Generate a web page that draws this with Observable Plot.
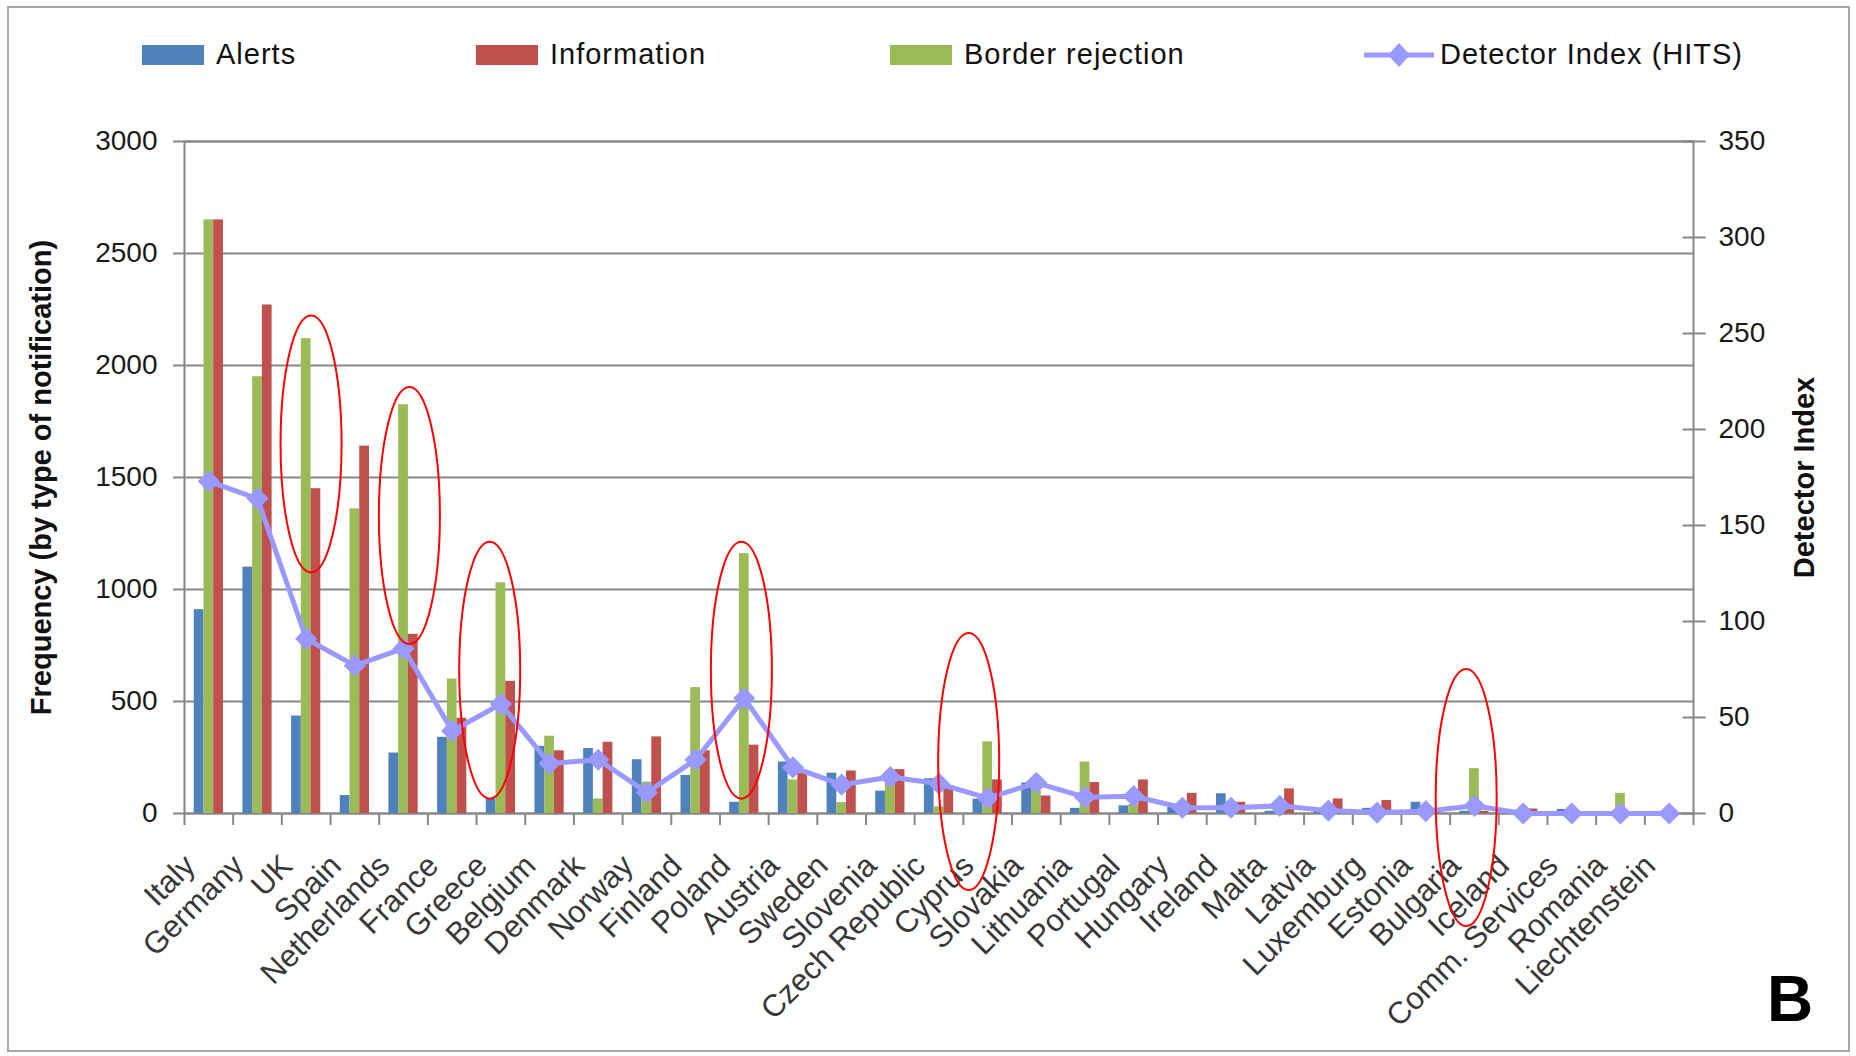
<!DOCTYPE html>
<html>
<head>
<meta charset="utf-8">
<script src="https://cdn.jsdelivr.net/npm/d3@7"></script>
<script src="https://cdn.jsdelivr.net/npm/@observablehq/plot@0.6"></script>
<style>
  html, body { margin: 0; padding: 0; background: #fff; }
  #wrap { position: relative; width: 1856px; height: 1056px; overflow: hidden; background: #fff;
          font-family: "Liberation Sans", Arial, sans-serif; color: #111; }
  #border { position: absolute; left: 7px; top: 6px; width: 1843px; height: 1046px;
            border: 2px solid #a8a8a8; box-sizing: border-box; pointer-events: none; z-index: 5; }
  #chart { position: absolute; left: 0; top: 90px; }
  .leg { position: absolute; top: 40px; height: 29px; display: flex; align-items: center;
         font-size: 29px; line-height: 29px; letter-spacing: 1px; white-space: nowrap; color: #111; }
  .sw { height: 20px; }
  #panel { position: absolute; left: 1767px; top: 967px; font-size: 64px; line-height: 64px;
           font-weight: bold; color: #000; }
</style>
</head>
<body>
<div id="wrap">
  <div id="legend"></div>
  <div id="chart"></div>
  <div id="panel">B</div>
  <div id="border"></div>
</div>
<script>
// ---------------- data ----------------
const countries = ["Italy", "Germany", "UK", "Spain", "Netherlands", "France", "Greece", "Belgium",
  "Denmark", "Norway", "Finland", "Poland", "Austria", "Sweden", "Slovenia", "Czech Republic",
  "Cyprus", "Slovakia", "Lithuania", "Portugal", "Hungary", "Ireland", "Malta", "Latvia",
  "Luxemburg", "Estonia", "Bulgaria", "Iceland", "Comm. Services", "Romania", "Liechtenstein"];
const alerts = [910, 1100, 435, 80, 270, 340, 65, 300,
  290, 240, 170, 50, 230, 180, 100, 155,
  64, 136, 23, 34, 28, 88, 10, 10,
  23, 50, 10, 5, 18, 5, 0];
const information = [2650, 2270, 1450, 1640, 800, 425, 590, 280,
  318, 342, 280, 305, 180, 190, 196, 115,
  150, 78, 138, 150, 90, 50, 110, 65,
  58, 10, 10, 20, 5, 5, 0];
const borderRejection = [2650, 1950, 2120, 1360, 1825, 600, 1030, 345,
  65, 140, 562, 1160, 150, 49, 140, 30,
  320, 110, 230, 40, 20, 30, 5, 5,
  5, 10, 200, 0, 0, 90, 0];
const detectorIndex = [173, 164, 91, 77, 86, 43, 57, 26,
  28, 11, 28, 60, 24, 15, 19, 15.5,
  8, 16, 8.5, 9, 3, 3, 4, 1.5,
  0.5, 1.2, 4, 0, 0, 0, 0];
const leftTicks = [0, 500, 1000, 1500, 2000, 2500, 3000];
const rightTicks = [0, 50, 100, 150, 200, 250, 300, 350];
const seriesNames = ["Alerts", "Information", "Border rejection", "Detector Index (HITS)"];
const seriesColors = ["#4F81BD", "#C0504D", "#9BBB59", "#9999FF"];
const yLabelLeft = "Frequency (by type of notification)";
const yLabelRight = "Detector Index";
// annotated groups (red ellipses): country, frequency value at the ellipse centre,
// and the ellipse centre's offset from the group centre in category units
const highlighted = ["UK", "Netherlands", "Greece", "Poland", "Cyprus", "Bulgaria"];
const highlightCentre = [1650, 1330, 640, 640, 232, 71];
const highlightShift = [0.1, 0.12, -0.23, -0.06, -0.39, -0.17];

// ---------------- layout ----------------
const W = 1856, H = 966;
const mL = 184, mR = 163, mT = 51, mB = 243;
const leftMax = 3000, rightMax = 350, k = leftMax / rightMax;
const bw = (W - mL - mR) / countries.length;
const grid = "#878787";

const rows = countries.map((c, i) => ({
  country: c, alerts: alerts[i], info: information[i], border: borderRejection[i], hits: detectorIndex[i]
}));

// bar slot j of 3 inside the band (20% wide each, group 60% centred)
const slot = j => ({insetLeft: bw * (0.2 + 0.2 * j), insetRight: bw * (1 - (0.4 + 0.2 * j))});

// ellipse symbol for the annotation rings
const ellipseSymbol = {
  draw(ctx) {
    const rx = 30.5, ry = 128.5, q = 0.5523;
    ctx.moveTo(rx, 0);
    ctx.bezierCurveTo(rx, q * ry, q * rx, ry, 0, ry);
    ctx.bezierCurveTo(-q * rx, ry, -rx, q * ry, -rx, 0);
    ctx.bezierCurveTo(-rx, -q * ry, -q * rx, -ry, 0, -ry);
    ctx.bezierCurveTo(q * rx, -ry, rx, -q * ry, rx, 0);
    ctx.closePath();
  }
};

const fmt = d3.format("d");

const chart = Plot.plot({
  width: W, height: H,
  marginLeft: mL, marginRight: mR, marginTop: mT, marginBottom: mB,
  style: {fontFamily: "'Liberation Sans', Arial, sans-serif", fontSize: "28px", background: "transparent", color: "#111"},
  x: {type: "band", domain: countries, padding: 0, round: false},
  y: {domain: [0, leftMax]},
  marks: [
    Plot.gridY({ticks: leftTicks, stroke: grid, strokeOpacity: 1, strokeWidth: 2}),
    Plot.frame({stroke: grid, strokeWidth: 2}),
    Plot.barY(rows, {x: "country", y: "alerts", fill: seriesColors[0], ...slot(0)}),
    Plot.barY(rows, {x: "country", y: "border", fill: seriesColors[2], ...slot(1)}),
    Plot.barY(rows, {x: "country", y: "info", fill: seriesColors[1], ...slot(2)}),
    // left axis
    Plot.axisY({anchor: "left", ticks: leftTicks, tickSize: 11, tickPadding: 16, stroke: grid, strokeWidth: 2,
      fill: "#1a1a1a", fontSize: 28, tickFormat: fmt, label: null}),
    // right axis (ticks crossing the axis line) and its labels
    Plot.axisY({anchor: "right", ticks: rightTicks.map(v => v * k), tickSize: 23, dx: -11.5, stroke: grid,
      strokeWidth: 2, tickFormat: () => "", label: null}),
    Plot.axisY({anchor: "right", ticks: rightTicks.map(v => v * k), tickSize: 0, tickPadding: 25,
      fill: "#1a1a1a", fontSize: 28, tickFormat: v => fmt(Math.round(v / k)), label: null}),
    // category boundary ticks
    Plot.axisX({ticks: countries, tickSize: 12, dx: -bw / 2, stroke: grid, strokeWidth: 2,
      tickFormat: () => "", label: null}),
    Plot.axisX({ticks: [countries[countries.length - 1]], tickSize: 12, dx: bw / 2, stroke: grid, strokeWidth: 2,
      tickFormat: () => "", label: null}),
    // rotated category labels
    Plot.axisX({ticks: countries, tickSize: 0, tickPadding: 47, tickRotate: -45, textAnchor: "end",
      lineAnchor: "middle", dx: -19, fill: "#383838", fontSize: 31, label: null}),
    // detector index line
    Plot.line(rows, {x: "country", y: d => d.hits * k, stroke: seriesColors[3], strokeWidth: 5}),
    Plot.dot(rows, {x: "country", y: d => d.hits * k, symbol: "diamond2", r: 10, fill: seriesColors[3], stroke: "none"}),
    // annotation ellipses
    ...highlighted.map((c, i) =>
      Plot.dot([{country: c, centre: highlightCentre[i]}], {x: "country", y: "centre", symbol: ellipseSymbol,
        dx: highlightShift[i] * bw, fill: "none", stroke: "#ff0000", strokeWidth: 2})),
    // axis titles
    Plot.text([yLabelLeft], {text: d => d, frameAnchor: "left", textAnchor: "middle", lineAnchor: "middle",
      rotate: -90, dx: -143, fontSize: 29, fontWeight: "bold", fill: "#111"}),
    Plot.text([yLabelRight], {text: d => d, frameAnchor: "right", textAnchor: "middle", lineAnchor: "middle",
      rotate: -90, dx: 111, fontSize: 29, fontWeight: "bold", fill: "#111"})
  ]
});
document.getElementById("chart").appendChild(chart);

// ---------------- legend ----------------
const legendLeft = [142, 476, 890, 1364];
const legend = document.getElementById("legend");
seriesNames.forEach((name, i) => {
  const item = document.createElement("div");
  item.className = "leg";
  item.style.left = legendLeft[i] + "px";
  if (i < 3) {
    const sw = document.createElement("div");
    sw.className = "sw";
    sw.style.width = "62px";
    sw.style.background = seriesColors[i];
    sw.style.marginRight = "12px";
    item.appendChild(sw);
  } else {
    const ns = "http://www.w3.org/2000/svg";
    const s = document.createElementNS(ns, "svg");
    s.setAttribute("width", 70); s.setAttribute("height", 26);
    s.style.marginRight = "6px";
    const ln = document.createElementNS(ns, "line");
    ln.setAttribute("x1", 0); ln.setAttribute("x2", 70); ln.setAttribute("y1", 13); ln.setAttribute("y2", 13);
    ln.setAttribute("stroke", seriesColors[3]); ln.setAttribute("stroke-width", 5);
    const dm = document.createElementNS(ns, "path");
    dm.setAttribute("d", "M35,1L46,13L35,25L24,13Z");
    dm.setAttribute("fill", seriesColors[3]);
    s.appendChild(ln); s.appendChild(dm);
    item.appendChild(s);
  }
  const t = document.createElement("span");
  t.textContent = name;
  item.appendChild(t);
  legend.appendChild(item);
});
</script>
</body>
</html>
